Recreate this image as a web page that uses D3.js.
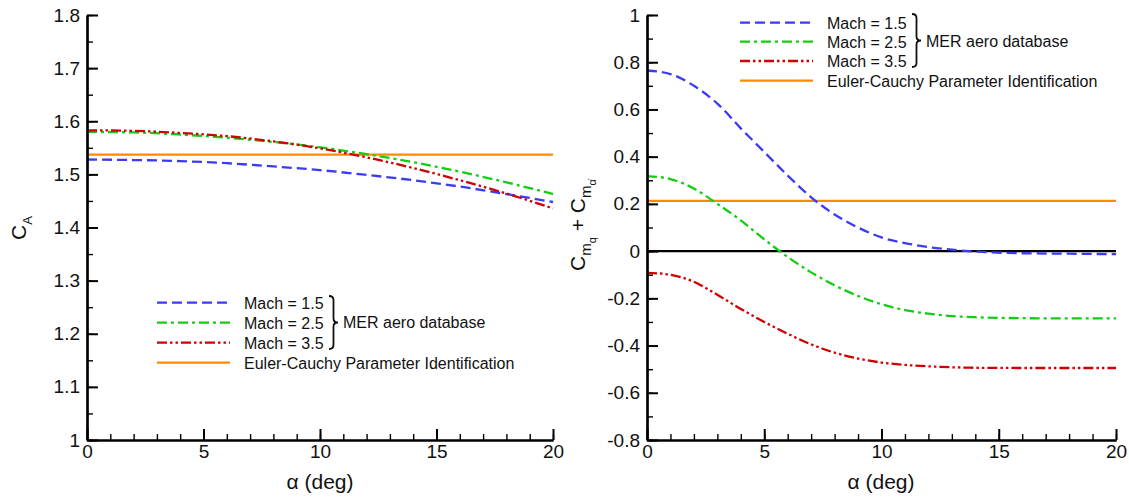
<!DOCTYPE html>
<html>
<head>
<meta charset="utf-8">
<script src="https://cdn.jsdelivr.net/npm/d3@7"></script>
<style>
  html, body { margin: 0; padding: 0; background: #fff; }
  svg { display: block; font-family: "Liberation Sans", Arial, Helvetica, sans-serif; }
</style>
</head>
<body>
<svg id="chart" width="1129" height="500"></svg>
<script>
// ---------- DATA ----------
const alphaCA = [0, 2, 4, 6, 8, 10, 12, 14, 16, 18, 20];
const caMach15 = [1.528, 1.527, 1.525, 1.521, 1.515, 1.508, 1.499, 1.489, 1.477, 1.463, 1.448];
const caMach25 = [1.580, 1.579, 1.575, 1.569, 1.561, 1.551, 1.538, 1.523, 1.505, 1.485, 1.463];
const caMach35 = [1.583, 1.582, 1.578, 1.572, 1.562, 1.549, 1.532, 1.512, 1.489, 1.464, 1.436];
const caEuler = 1.537;

const alphaCm = [0, 1, 2, 3, 4, 5, 6, 7, 8, 9, 10, 11, 12, 13, 14, 16, 18, 20];
const cmMach15 = [0.765, 0.75, 0.70, 0.625, 0.52, 0.42, 0.32, 0.228, 0.155, 0.10, 0.058, 0.034, 0.017, 0.006, -0.002, -0.009, -0.011, -0.013];
const cmMach25 = [0.318, 0.305, 0.265, 0.20, 0.13, 0.05, -0.025, -0.09, -0.145, -0.19, -0.225, -0.25, -0.265, -0.275, -0.28, -0.284, -0.285, -0.285];
const cmMach35 = [-0.092, -0.10, -0.13, -0.185, -0.245, -0.30, -0.35, -0.395, -0.43, -0.455, -0.472, -0.482, -0.488, -0.492, -0.494, -0.495, -0.495, -0.495];
const cmEuler = 0.213;

const xTicks = [0, 5, 10, 15, 20];
const xMinorTicks = d3.range(0, 21, 1);
const caTicks = [1, 1.1, 1.2, 1.3, 1.4, 1.5, 1.6, 1.7, 1.8];
const caMinorTicks = d3.range(1, 1.801, 0.05);
const cmTicks = [-0.8, -0.6, -0.4, -0.2, 0, 0.2, 0.4, 0.6, 0.8, 1];
const cmMinorTicks = d3.range(-0.8, 1.001, 0.1);

const legendLabels = ["Mach = 1.5", "Mach = 2.5", "Mach = 3.5", "Euler-Cauchy Parameter Identification"];
const groupLabel = "MER aero database";

// ---------- STYLE ----------
const colors = ["#3b3bf5", "#14cc14", "#d00000", "#ff8a00"];
const dashes = ["10,5", "10,4,3,4", "10,3,2.5,3,2.5,3", null];

const svg = d3.select("#chart");

function fmt(d) {
  if (Math.abs(d) < 1e-9) return "0";
  if (Math.abs(d - Math.round(d)) < 1e-9) return String(Math.round(d));
  return d.toFixed(1);
}

function drawAxes(g, x, y, yTicks, yMinor) {
  const yMinorAxis = d3.axisLeft(y).tickValues(yMinor).tickSize(-6).tickSizeOuter(0).tickFormat("");
  const yAxis = d3.axisLeft(y).tickValues(yTicks).tickSize(-11).tickSizeOuter(0).tickPadding(7).tickFormat(fmt);
  const xMinorAxis = d3.axisBottom(x).tickValues(xMinorTicks).tickSize(-6).tickSizeOuter(0).tickFormat("");
  const xAxis = d3.axisBottom(x).tickValues(xTicks).tickSize(-11).tickSizeOuter(0).tickPadding(5).tickFormat(fmt);
  const x0 = x.range()[0], y0 = y.range()[0];
  const gy1 = g.append("g").attr("transform", `translate(${x0},0)`).call(yMinorAxis);
  const gy2 = g.append("g").attr("transform", `translate(${x0},0)`).call(yAxis);
  const gx1 = g.append("g").attr("transform", `translate(0,${y0})`).call(xMinorAxis);
  const gx2 = g.append("g").attr("transform", `translate(0,${y0})`).call(xAxis);
  [gy1, gy2, gx1, gx2].forEach(a => {
    a.selectAll("path.domain").attr("stroke", "#000").attr("stroke-width", 2.2);
    a.selectAll(".tick line").attr("stroke", "#000").attr("stroke-width", 1.4);
    a.selectAll("text").attr("fill", "#111").style("font-size", "19px")
      .style("font-family", "'Liberation Sans', Arial, sans-serif");
  });
  gy2.selectAll(".tick line").attr("stroke-width", 2);
  gx2.selectAll(".tick line").attr("stroke-width", 2);
}

function drawSeries(g, x, y, xs, seriesList, euler) {
  const line = d3.line().x((d, i) => x(d[0])).y(d => y(d[1])).curve(d3.curveMonotoneX);
  g.append("line")
    .attr("x1", x(0)).attr("x2", x(20)).attr("y1", y(euler)).attr("y2", y(euler))
    .attr("stroke", colors[3]).attr("stroke-width", 2.2);
  seriesList.forEach((vals, k) => {
    const pts = xs.map((a, i) => [a, vals[i]]);
    g.append("path").attr("d", line(pts))
      .attr("fill", "none").attr("stroke", colors[k]).attr("stroke-width", 2.3)
      .attr("stroke-dasharray", dashes[k]);
  });
}

function brace(g, x0, yTop, yBot, w) {
  const xm = x0 + w / 2, ym = (yTop + yBot) / 2, r = 4;
  const p = `M${x0},${yTop} Q${xm},${yTop} ${xm},${yTop + r} L${xm},${ym - r} Q${xm},${ym} ${x0 + w},${ym}`
    + ` Q${xm},${ym} ${xm},${ym + r} L${xm},${yBot - r} Q${xm},${yBot} ${x0},${yBot}`;
  g.append("path").attr("d", p).attr("fill", "none").attr("stroke", "#111").attr("stroke-width", 1.8);
}

function drawLegend(g, lx0, lx1, tx, rowsY, braceX, braceTop, braceBot, groupX, groupY) {
  legendLabels.forEach((lab, k) => {
    g.append("line").attr("x1", lx0).attr("x2", lx1).attr("y1", rowsY[k]).attr("y2", rowsY[k])
      .attr("stroke", colors[k]).attr("stroke-width", 2.3).attr("stroke-dasharray", dashes[k]);
    g.append("text").attr("x", tx).attr("y", rowsY[k] + 6).text(lab)
      .style("font-size", "16px").attr("fill", "#111");
  });
  brace(g, braceX, braceTop, braceBot, 9);
  g.append("text").attr("x", groupX).attr("y", groupY).text(groupLabel)
    .style("font-size", "16px").attr("fill", "#111");
}

// ---------- LEFT PANEL: C_A ----------
const xL = d3.scaleLinear().domain([0, 20]).range([87, 553]);
const yL = d3.scaleLinear().domain([1, 1.8]).range([440, 15]);
const gL = svg.append("g");
drawSeries(gL, xL, yL, alphaCA, [caMach15, caMach25, caMach35], caEuler);
drawAxes(gL, xL, yL, caTicks, caMinorTicks);
drawLegend(gL, 157, 230, 244, [302.7, 322.7, 342.7, 362.7], 329, 296, 349, 343, 328);

gL.append("text").attr("transform", "translate(26,228) rotate(-90)")
  .attr("text-anchor", "middle").style("font-size", "21px").attr("fill", "#111")
  .call(t => {
    t.append("tspan").text("C");
    t.append("tspan").attr("dy", 6).style("font-size", "13px").text("A");
  });
gL.append("text").attr("x", 320).attr("y", 489).attr("text-anchor", "middle")
  .style("font-size", "21px").attr("fill", "#111").text("α (deg)");

// ---------- RIGHT PANEL: Cmq + Cmalphadot ----------
const xR = d3.scaleLinear().domain([0, 20]).range([647, 1116]);
const yR = d3.scaleLinear().domain([-0.8, 1]).range([440, 15]);
const gR = svg.append("g");
gR.append("line").attr("x1", xR(0)).attr("x2", xR(20)).attr("y1", yR(0)).attr("y2", yR(0))
  .attr("stroke", "#000").attr("stroke-width", 2.2);
drawSeries(gR, xR, yR, alphaCm, [cmMach15, cmMach25, cmMach35], cmEuler);
drawAxes(gR, xR, yR, cmTicks, cmMinorTicks);
drawLegend(gR, 740, 813, 827, [22.7, 41.7, 61, 80.7], 912, 14, 67, 926, 47);

gR.append("text").attr("transform", "translate(585,225) rotate(-90)")
  .attr("text-anchor", "middle").style("font-size", "21px").attr("fill", "#111")
  .call(t => {
    t.append("tspan").text("C");
    t.append("tspan").attr("dy", 6).style("font-size", "15px").text("m");
    t.append("tspan").attr("dy", 5).style("font-size", "11px").text("q");
    t.append("tspan").attr("dy", -11).text(" + C");
    t.append("tspan").attr("dy", 6).style("font-size", "15px").text("m");
    t.append("tspan").attr("dy", 5).style("font-size", "11px").text("α\u0307");
  });
gR.append("text").attr("x", 881).attr("y", 489).attr("text-anchor", "middle")
  .style("font-size", "21px").attr("fill", "#111").text("α (deg)");
</script>
</body>
</html>
